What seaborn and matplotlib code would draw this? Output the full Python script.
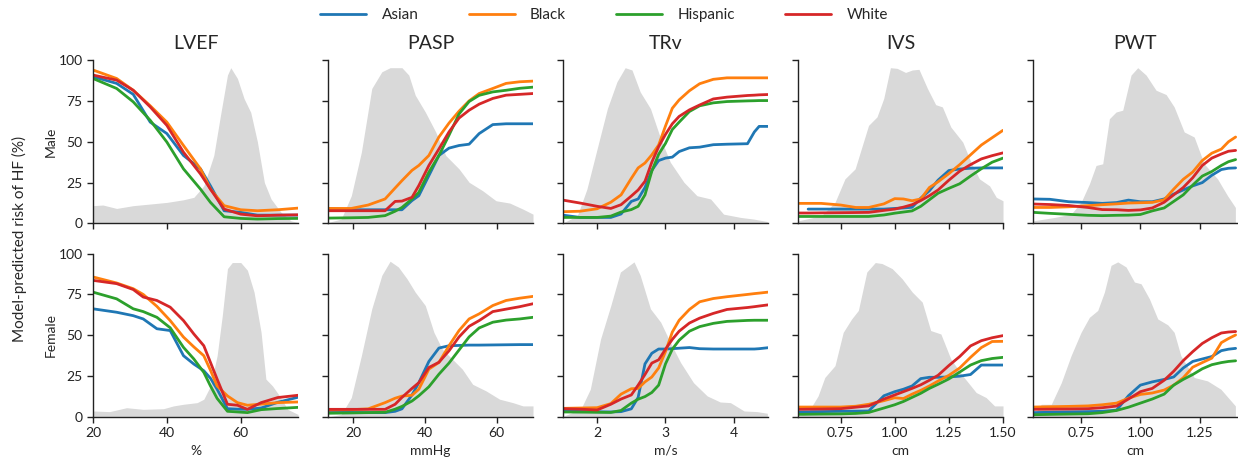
import numpy as np
import pandas as pd
import matplotlib
matplotlib.use("Agg")
import matplotlib.pyplot as plt
from matplotlib.lines import Line2D
from matplotlib.ticker import FormatStrFormatter
import seaborn as sns

groups = ["Asian", "Black", "Hispanic", "White"]
colors = ["#1f77b4", "#ff7f0e", "#2ca02c", "#d62728"]
features = ["LVEF", "PASP", "TRv", "IVS", "PWT"]
units = ["%", "mmHg", "m/s", "cm", "cm"]
sexes = ["Male", "Female"]

# ---------------- LVEF
lvef_m_x = [20, 26.4, 30.9, 35.5, 40, 44.5, 49.1, 51.8, 55.5, 60, 64.5, 70, 75.5]
lvef_m = {
    "Asian":    [89.8, 85.7, 79, 62, 55, 41.6, 33.4, 23, 7.8, 6.8, 5.1, 5.1, 5.1],
    "Black":    [93.9, 88.7, 81.5, 72, 62, 47.7, 33.4, 21, 10.9, 8.4, 7.8, 8.4, 9.4],
    "Hispanic": [88.7, 82.6, 74.4, 63.1, 49.8, 33.4, 21, 12.9, 4.1, 3.1, 2.7, 3.0, 3.1],
    "White":    [90.8, 87.7, 81.5, 71.3, 60, 43.6, 30.3, 21, 8.8, 5.7, 4.7, 5.1, 5.3],
}
lvef_m_dx = [20, 22.7, 26.4, 30.9, 35.5, 40, 44.5, 47.3, 50, 52.7, 54.5, 56.4, 57.3, 59.1,
             60.9, 62.7, 64.5, 66.4, 68.2, 70.9, 73.6, 75.5]
lvef_m_dy = [10.9, 11.3, 9.2, 10.9, 11.9, 12.9, 14.5, 16, 23, 41.6, 66, 90.8, 95.3, 88.7,
             76.4, 68, 50, 25, 15, 6.8, 1.6, 0.6]

lvef_f_x = [20, 26.4, 30.9, 33.6, 37.3, 40.9, 44.5, 47.3, 50, 51.8, 53.6, 56.4, 59.1, 61.8, 65.5, 70, 75.5]
lvef_f = {
    "Asian":    [66.2, 64.1, 62, 60, 54, 52.9, 37.5, 32.4, 28.3, 23.7, 17, 5.1, 4.8, 4.7, 5.5, 9.0, 12.1],
    "Black":    [85.7, 82, 78.5, 75, 67.7, 59, 48.9, 42.9, 37.5, 28.6, 19, 12.9, 8.8, 7.2, 7.9, 8.8, 9.2],
    "Hispanic": [76.4, 72.3, 66.2, 64.5, 61, 54.6, 42.6, 35.5, 27.3, 19, 11.4, 3.5, 3.1, 2.7, 4.5, 5.2, 5.9],
    "White":    [83.6, 81.6, 78, 73.4, 71.3, 67.2, 59, 50.8, 43.6, 33.4, 23.2, 7.8, 7.2, 4.7, 8.8, 11.9, 13.3],
}
lvef_f_dx = [20, 24.5, 29.1, 33.6, 39.1, 41.8, 44.5, 48.2, 50, 51.8, 53.6, 55, 56.4, 57.7, 60,
             61.8, 63.6, 65.5, 66.8, 68.6, 70.5, 72.7, 75.5]
lvef_f_dy = [3.7, 3.3, 5.7, 4.7, 5.1, 6.8, 7.8, 8.8, 10.9, 19, 37.5, 62, 90.8, 94.5, 94.5,
             89.8, 76.4, 51.8, 23.2, 19, 12.9, 4.7, 1.6]

# ---------------- PASP
pasp_x = [13, 19.5, 24.2, 28.9, 31.7, 33.6, 36.4, 38.3, 41.1, 43.9, 46.7, 49.5, 52.3, 55.1, 58.9, 62.6, 66.4, 70.1]
pasp_m = {
    "Asian":    [9.2, 8.4, 8.4, 8.4, 8.4, 8.4, 14, 17, 29.3, 41.6, 46.1, 47.7, 48.5, 55, 60.5, 61, 61, 61],
    "Black":    [9.2, 9.2, 11.3, 15, 21.7, 26.2, 32.5, 35.5, 41.6, 52.9, 61.4, 68.7, 75, 79.5, 82.6, 85.7, 86.7, 87.1],
    "Hispanic": [3.3, 3.5, 3.7, 4.8, 7.5, 9.8, 15, 19, 31.4, 41.6, 54, 67, 74.6, 78.4, 80.5, 81.5, 82.7, 83.4],
    "White":    [7.8, 7.8, 7.8, 7.8, 13.5, 13.7, 16, 23.2, 35.5, 45.6, 56, 64.5, 69.3, 73, 76.5, 78.5, 79, 79.5],
}
pasp_m_dx = [13, 16.7, 19.5, 22.3, 25.2, 28, 30.3, 33.6, 35.5, 37.3, 40.1, 43, 45.8, 49.5,
             52.3, 56.1, 59.8, 63.6, 67.3, 70.1]
pasp_m_dy = [0.6, 2.7, 17, 43.6, 82.6, 92.8, 95.3, 95.3, 90.8, 78.5, 68.2, 56, 41.6, 33.4,
             25.2, 20, 13.9, 12.5, 8.8, 5.7]

pasp_f = {
    "Asian":    [3.1, 2.8, 2.7, 2.7, 3.5, 5, 13.5, 21, 34, 42.2, 43.6, 43.8, 44, 44, 44.1, 44.2, 44.3, 44.3],
    "Black":    [4.3, 4.5, 5, 8.8, 11.5, 12.8, 13.3, 17, 29.3, 33.4, 43.6, 52.9, 60, 63.1, 68.2, 71.3, 72.7, 73.8],
    "Hispanic": [2.3, 2.5, 2.7, 2.9, 4.8, 6.5, 9.8, 13, 18.5, 26.2, 33, 41, 49, 54.5, 58, 59.3, 60, 61],
    "White":    [4.7, 4.7, 4.7, 4.7, 7.8, 12, 17.5, 21, 30.3, 33.5, 40.5, 49, 55.5, 59, 64.5, 66, 67.5, 69.3],
}
pasp_f_dx = [13, 16.7, 19.5, 22.3, 25.2, 28, 30.3, 32.6, 35, 37.3, 40.1, 42.5, 44.8, 47.6,
             50.4, 53.3, 57, 60.8, 64.5, 67.3, 70.1]
pasp_f_dy = [0, 1.6, 11.9, 37.5, 66.2, 86.7, 95.3, 91.8, 84.6, 76.4, 68.2, 51.8, 41.6, 35.5,
             29.3, 20, 16, 10.9, 8.8, 6.8, 6.8]

# ---------------- TRv
trv_x = [1.5, 1.75, 2.0, 2.2, 2.35, 2.5, 2.6, 2.7, 2.8, 2.9, 3.0, 3.1, 3.2, 3.35, 3.5, 3.7, 3.9, 4.2, 4.3, 4.37, 4.5]
trv_m = {
    "Asian":    [5.1, 3.7, 3.7, 3.7, 5.8, 13.5, 15, 22, 32.5, 38.5, 40, 40.6, 44, 46.3, 46.7, 48.2, 48.5, 48.8, 56, 59.4, 59.4],
    "Black":    [7.2, 7.5, 9, 13, 17.5, 27.6, 34, 37, 42, 48, 59.6, 70.5, 75.6, 81.2, 85.5, 88.2, 89.1, 89.1, 89.1, 89.1, 89.1],
    "Hispanic": [3.7, 3.7, 3.7, 4.5, 7, 8.5, 10.5, 17.5, 32, 42.3, 49, 57.5, 62, 68.5, 72, 73.8, 74.6, 75, 75.1, 75.2, 75.2],
    "White":    [14.3, 12.5, 10.5, 9.2, 11.5, 16.8, 20.5, 25.8, 37.5, 47, 54.5, 61, 65.5, 69.5, 72.5, 76.2, 77.3, 78.3, 78.5, 78.7, 78.9],
}
trv_m_dx = [1.51, 1.71, 1.85, 2.0, 2.15, 2.29, 2.41, 2.51, 2.63, 2.78, 2.93, 3.07, 3.27, 3.46,
            3.66, 3.85, 4.10, 4.29, 4.49]
trv_m_dy = [0.6, 4.7, 21, 45.7, 70.3, 86.7, 95.3, 93.9, 80.5, 70.3, 51.8, 37.5, 25.2, 17,
            15, 5.7, 3.7, 2.7, 1.2]

trv_f = {
    "Asian":    [3.7, 3.4, 3.2, 3.1, 3.3, 5, 12, 32.5, 39, 41.6, 41.6, 41.8, 42.1, 42.5, 41.8, 41.6, 41.6, 41.6, 41.6, 41.8, 42.4],
    "Black":    [5.3, 5.5, 5.7, 8.2, 14, 17.3, 17.5, 21.5, 24.5, 30, 40, 52, 59.2, 65.8, 70.5, 72.5, 73.6, 75, 75.5, 75.8, 76.4],
    "Hispanic": [3.1, 3.0, 2.9, 2.8, 4, 8.5, 10.9, 12.5, 15, 19.5, 32.5, 41.5, 47, 52.5, 55.3, 57.3, 58.5, 59.1, 59.2, 59.2, 59.2],
    "White":    [5.1, 4.8, 4.3, 7.8, 11, 13.5, 19.5, 26, 33, 35, 41.5, 47.5, 52.5, 57.5, 60.5, 63.4, 65.8, 67, 67.5, 67.9, 68.6],
}
trv_f_dx = [1.51, 1.76, 1.9, 2.05, 2.2, 2.34, 2.44, 2.54, 2.63, 2.78, 2.93, 3.07, 3.22, 3.41,
            3.61, 3.80, 3.95, 4.15, 4.34, 4.49]
trv_f_dy = [0.6, 4.7, 17, 47.7, 68.2, 88.7, 91.8, 94.9, 86.7, 66.2, 58, 45.7, 33.4, 21,
            12.9, 9.2, 8.8, 3.7, 3.3, 2.3]

# ---------------- IVS
ivs_x = [0.553, 0.6, 0.66, 0.75, 0.82, 0.88, 0.95, 1.0, 1.04, 1.08, 1.12, 1.16, 1.2, 1.25, 1.3, 1.35, 1.4, 1.45, 1.5]
ivs_m = {
    "Asian":    [np.nan, 8.8, 8.8, 8.8, 8.8, 8.8, 8.8, 9.2, 9.5, 9.9, 15.5, 20, 26.5, 32.4, 33.3, 33.8, 34, 34, 34],
    "Black":    [12.3, 12.3, 12.3, 11.3, 9.8, 9.8, 12, 15.2, 15, 13.9, 15, 22, 25.5, 30.5, 36, 42, 48, 52.5, 57],
    "Hispanic": [4.3, 4.3, 4.3, 4.3, 4.3, 4.3, 5.2, 6.3, 7, 7.7, 10.5, 14.5, 18.5, 21.5, 24.3, 29, 33.5, 37.5, 40],
    "White":    [6.4, 6.4, 6.5, 6.6, 6.7, 6.8, 8, 8.8, 10, 11.5, 14, 17, 20.5, 26.5, 32, 36, 39.5, 41.5, 43.2],
}
ivs_m_dx = [0.553, 0.661, 0.724, 0.770, 0.817, 0.879, 0.918, 0.949, 0.980, 1.011, 1.050, 1.081,
            1.112, 1.151, 1.189, 1.220, 1.259, 1.314, 1.352, 1.391, 1.438, 1.469, 1.5]
ivs_m_dy = [1.6, 4.7, 12.9, 27.3, 33.4, 60, 65.2, 76.4, 95.3, 94.9, 92.4, 93.9,
            94.3, 82.6, 72.7, 71.3, 59, 49.8, 37.5, 27.3, 23, 16, 13.9]

ivs_f = {
    "Asian":    [3.1, 3.2, 3.3, 3.5, 3.6, 3.7, 13, 15.5, 17, 19, 23.5, 24.3, 24.3, 24.5, 25, 26, 31.8, 31.8, 31.8],
    "Black":    [6.1, 6.1, 6.1, 6.1, 6.6, 7.8, 10, 11.8, 11.3, 14, 16.3, 19, 22, 25.5, 30, 36.5, 42.5, 46.2, 46.3],
    "Hispanic": [1.6, 1.7, 1.8, 1.9, 2.2, 2.8, 5.5, 7.5, 9.5, 12, 14.5, 17.5, 20, 23.3, 27.5, 31.8, 34.5, 35.8, 36.5],
    "White":    [4.7, 4.8, 4.9, 5.1, 6, 6.8, 11, 13.5, 15.5, 17.5, 19.7, 22.5, 25.5, 31.5, 37, 43.5, 46.7, 48.5, 49.8],
}
ivs_f_dx = [0.553, 0.599, 0.646, 0.677, 0.724, 0.762, 0.801, 0.832, 0.871, 0.910, 0.941, 0.988,
            1.034, 1.081, 1.127, 1.166, 1.213, 1.259, 1.314, 1.376, 1.422, 1.461, 1.5]
ivs_f_dy = [0.6, 2.7, 12.9, 24.2, 31.4, 51.8, 60, 65.2, 88.7, 94.5, 93.9, 90.8,
            84.6, 76.4, 70.3, 52.9, 50.8, 35.5, 25.2, 15, 11.9, 6.8, 6.8]

# ---------------- PWT
pwt_x = [0.55, 0.62, 0.7, 0.78, 0.84, 0.9, 0.95, 1.0, 1.05, 1.1, 1.14, 1.18, 1.22, 1.26, 1.3, 1.34, 1.37, 1.4]
pwt_m = {
    "Asian":    [15, 14.8, 13.3, 12.8, 12.3, 12.8, 14.3, 13.3, 13.3, 15, 18, 20.5, 23, 25, 29.5, 33, 33.8, 34],
    "Black":    [9.8, 9.8, 10.2, 10.9, 11.5, 12, 12.5, 12.7, 12.9, 14.5, 21, 27, 31.5, 38.5, 43, 45.5, 50, 52.9],
    "Hispanic": [6.8, 6.2, 5.6, 5, 4.8, 5.0, 5.1, 5.5, 7.7, 9.5, 13.5, 17.5, 23.5, 29, 31.8, 35.5, 37.8, 39.1],
    "White":    [11.9, 11.6, 11, 9.8, 8.5, 8.4, 8, 8.3, 9.5, 13, 17.5, 22, 28, 35.5, 40, 42.5, 44.2, 44.7],
}
pwt_m_dx = [0.549, 0.640, 0.709, 0.751, 0.786, 0.814, 0.842, 0.870, 0.898, 0.926, 0.961, 0.989,
            1.024, 1.066, 1.108, 1.142, 1.184, 1.226, 1.268, 1.324, 1.366, 1.399]
pwt_m_dy = [1.6, 3.7, 5.7, 12.9, 24.2, 35.5, 36.5, 64.1, 68.2, 69.3, 90.8, 95.3,
            90.8, 81.5, 78.9, 71.3, 56, 52.9, 36.5, 27.3, 17, 9.8]

pwt_f = {
    "Asian":    [2.7, 2.9, 3.1, 3.3, 3.5, 4.2, 13, 19.5, 21.5, 23, 24.5, 30, 34, 35.5, 37, 40.6, 41.5, 42],
    "Black":    [6.1, 6.3, 6.5, 6.8, 7.5, 8.5, 11.5, 13.8, 14.7, 16.5, 19.5, 24, 30.5, 33.3, 36, 45.5, 48, 50.2],
    "Hispanic": [1.4, 1.6, 1.8, 2.0, 2.7, 4, 6, 8.5, 11, 14, 19.5, 23, 26, 29.5, 32, 33.3, 34, 34.4],
    "White":    [4.7, 4.8, 4.9, 5.1, 5.7, 6.7, 11, 15.5, 17.5, 22.5, 28, 34.5, 40, 45, 48.5, 51.4, 52, 52.3],
}
pwt_f_dx = [0.549, 0.584, 0.626, 0.668, 0.709, 0.751, 0.786, 0.821, 0.849, 0.877, 0.905, 0.940,
            0.975, 1.003, 1.038, 1.073, 1.115, 1.142, 1.170, 1.226, 1.282, 1.338, 1.399]
pwt_f_dy = [0.6, 7.8, 7.8, 21, 37.5, 51.8, 61, 65.2, 76.4, 92.8, 94.9, 91.8,
            82.6, 81.5, 72.3, 60, 56.4, 51.8, 37.5, 24.2, 22.1, 17, 6.8]

panels = {
    ("LVEF", "Male"): (lvef_m_x, lvef_m, lvef_m_dx, lvef_m_dy),
    ("LVEF", "Female"): (lvef_f_x, lvef_f, lvef_f_dx, lvef_f_dy),
    ("PASP", "Male"): (pasp_x, pasp_m, pasp_m_dx, pasp_m_dy),
    ("PASP", "Female"): (pasp_x, pasp_f, pasp_f_dx, pasp_f_dy),
    ("TRv", "Male"): (trv_x, trv_m, trv_m_dx, trv_m_dy),
    ("TRv", "Female"): (trv_x, trv_f, trv_f_dx, trv_f_dy),
    ("IVS", "Male"): (ivs_x, ivs_m, ivs_m_dx, ivs_m_dy),
    ("IVS", "Female"): (ivs_x, ivs_f, ivs_f_dx, ivs_f_dy),
    ("PWT", "Male"): (pwt_x, pwt_m, pwt_m_dx, pwt_m_dy),
    ("PWT", "Female"): (pwt_x, pwt_f, pwt_f_dx, pwt_f_dy),
}
xlims = {"LVEF": (20, 75.5), "PASP": (13, 70.1), "TRv": (1.5, 4.5), "IVS": (0.553, 1.5), "PWT": (0.549, 1.41)}
xticks = {"LVEF": [20, 40, 60], "PASP": [20, 40, 60], "TRv": [2, 3, 4],
          "IVS": [0.75, 1.0, 1.25, 1.5], "PWT": [0.75, 1.0, 1.25]}


def long_df(x, curves):
    rows = []
    for g in groups:
        for xi, yi in zip(x, curves[g]):
            rows.append((g, xi, yi))
    return pd.DataFrame(rows, columns=["group", "x", "risk"]).dropna()


sns.set_theme(style="ticks")
plt.rcParams["font.family"] = ["Lato", "DejaVu Sans"]
plt.rcParams["axes.edgecolor"] = "#222222"
plt.rcParams["xtick.color"] = "#222222"
plt.rcParams["ytick.color"] = "#222222"

fig, axes = plt.subplots(2, 5, figsize=(12.38, 4.61), dpi=100, sharey=True, sharex="col")
fig.subplots_adjust(left=0.0751, right=1.0, top=0.8698, bottom=0.0954, wspace=0.146, hspace=0.184)

for j, feat in enumerate(features):
    for i, sex in enumerate(sexes):
        ax = axes[i, j]
        x, curves, dx, dy = panels[(feat, sex)]
        ax.fill_between(dx, dy, color="#d9d9d9", lw=0, zorder=0)
        df = long_df(x, curves)
        sns.lineplot(data=df, x="x", y="risk", hue="group", hue_order=groups, palette=colors,
                     lw=2.0, estimator=None, legend=False, ax=ax)
        ax.set_xlim(*xlims[feat])
        ax.set_ylim(0, 100)
        ax.set_xticks(xticks[feat])
        ax.set_yticks([0, 25, 50, 75, 100])
        ax.tick_params(labelsize=10, length=4, width=1)
        for s in ["left", "bottom"]:
            ax.spines[s].set_linewidth(1.0)
        sns.despine(ax=ax)
        if feat in ("IVS", "PWT"):
            ax.xaxis.set_major_formatter(FormatStrFormatter("%.2f"))
        ax.set_xlabel(units[j] if i == 1 else "", fontsize=10)
        ax.set_ylabel(sex if j == 0 else "", fontsize=10, labelpad=1)
        if i == 0:
            ax.set_title(feat, fontsize=14, pad=8)

fig.text(0.016, 0.482, "Model-predicted risk of HF (%)", rotation=90, ha="center", va="center", fontsize=11)

handles = [Line2D([0], [0], color=c, lw=2.0) for c in colors]
fig.legend(handles, groups, loc="upper center", bbox_to_anchor=(0.488, 1.012), ncol=4, frameon=False,
           fontsize=11, handlelength=3.0, columnspacing=3.3, handletextpad=1.0)

fig.savefig("out.png", dpi=100)
